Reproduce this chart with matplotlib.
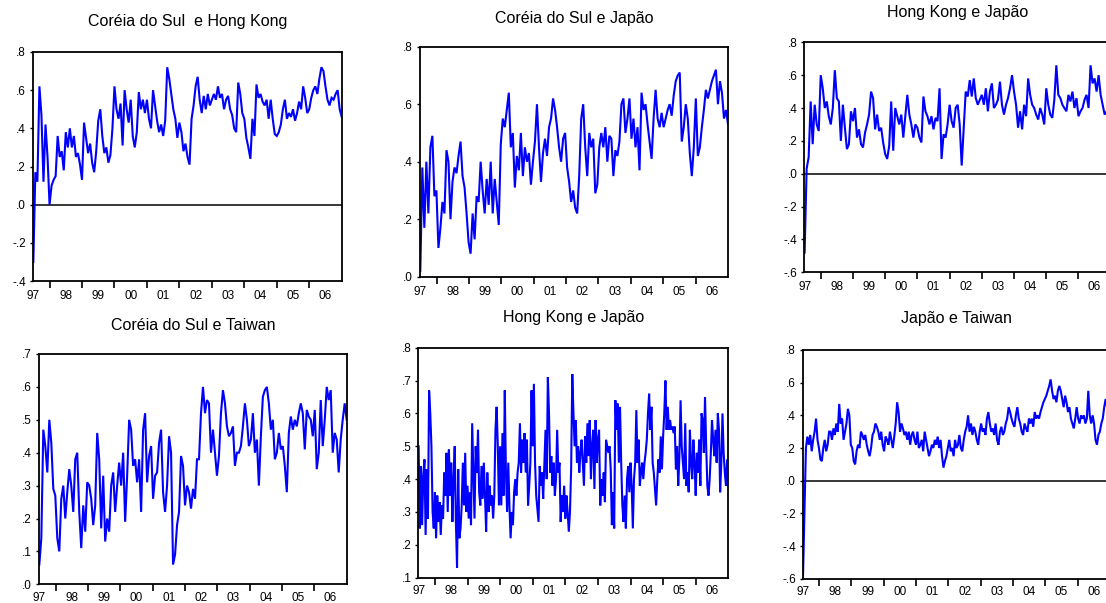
import numpy as np
import matplotlib
matplotlib.use("Agg")
import matplotlib.pyplot as plt
from matplotlib.ticker import FixedLocator, FuncFormatter, NullFormatter

plt.rcParams['font.family'] = ['Liberation Sans', 'DejaVu Sans']

# ---------------- data (weekly-ish conditional correlations) -------------
start_year, end_year = 1997.5, 2007.0
year_ticks = list(range(1998, 2007))
year_labels = ['97', '98', '99', '00', '01', '02', '03', '04', '05', '06']

titles = ['Coréia do Sul  e Hong Kong', 'Coréia do Sul e Japão', 'Hong Kong e Japão',
          'Coréia do Sul e Taiwan', 'Hong Kong e Japão', 'Japão e Taiwan']

kor_hk = [-0.30, 0.17, 0.12, 0.62, 0.47, 0.12, 0.42, 0.25,
          0.00, 0.10, 0.13, 0.15, 0.36, 0.25, 0.28, 0.18, 0.38, 0.30, 0.40, 0.30, 0.36, 0.25, 0.27, 0.21,
          0.13, 0.43, 0.35, 0.27, 0.32, 0.22, 0.17, 0.28, 0.44, 0.50, 0.36, 0.27, 0.30, 0.22, 0.26, 0.40,
          0.62, 0.50, 0.45, 0.53, 0.31, 0.60, 0.50, 0.43, 0.55, 0.36, 0.30, 0.38, 0.59, 0.50, 0.55, 0.48,
          0.55, 0.45, 0.40, 0.60, 0.52, 0.44, 0.38, 0.42, 0.36, 0.44, 0.72, 0.66, 0.58, 0.50, 0.45, 0.35,
          0.43, 0.38, 0.28, 0.32, 0.25, 0.21, 0.45, 0.52, 0.62, 0.67, 0.55, 0.48, 0.57, 0.50, 0.58, 0.52,
          0.55, 0.58, 0.55, 0.62, 0.56, 0.58, 0.50, 0.55, 0.57, 0.50, 0.47, 0.40, 0.38, 0.64, 0.58, 0.48,
          0.45, 0.35, 0.30, 0.24, 0.45, 0.36, 0.63, 0.56, 0.58, 0.54, 0.52, 0.55, 0.45, 0.55, 0.45, 0.37,
          0.36, 0.38, 0.42, 0.50, 0.55, 0.45, 0.48, 0.46, 0.50, 0.44, 0.48, 0.54, 0.50, 0.62, 0.56, 0.48,
          0.50, 0.56, 0.60, 0.62, 0.58, 0.66, 0.72, 0.70, 0.62, 0.55, 0.52, 0.56, 0.55, 0.58, 0.60, 0.50, 0.46]

kor_jap = [0.02, 0.38, 0.17, 0.40, 0.22, 0.45, 0.49, 0.28,
           0.30, 0.10, 0.17, 0.26, 0.22, 0.44, 0.40, 0.20, 0.33, 0.38, 0.36, 0.42, 0.47, 0.35, 0.31, 0.22,
           0.12, 0.08, 0.22, 0.13, 0.28, 0.26, 0.40, 0.30, 0.22, 0.34, 0.25, 0.40, 0.22, 0.34, 0.26, 0.18,
           0.46, 0.55, 0.52, 0.58, 0.64, 0.45, 0.50, 0.31, 0.42, 0.37, 0.50, 0.35, 0.45, 0.40, 0.43, 0.32,
           0.40, 0.47, 0.60, 0.45, 0.33, 0.43, 0.48, 0.42, 0.52, 0.55, 0.62, 0.58, 0.52, 0.45, 0.40, 0.48,
           0.50, 0.38, 0.33, 0.26, 0.30, 0.24, 0.22, 0.35, 0.55, 0.60, 0.45, 0.35, 0.50, 0.45, 0.48, 0.29,
           0.32, 0.45, 0.50, 0.45, 0.52, 0.40, 0.49, 0.48, 0.35, 0.44, 0.42, 0.47, 0.60, 0.62, 0.50, 0.55,
           0.62, 0.48, 0.55, 0.45, 0.52, 0.37, 0.64, 0.58, 0.60, 0.53, 0.47, 0.41, 0.55, 0.65, 0.55, 0.52,
           0.57, 0.52, 0.55, 0.58, 0.60, 0.56, 0.63, 0.68, 0.70, 0.71, 0.47, 0.52, 0.60, 0.55, 0.43, 0.35,
           0.45, 0.62, 0.42, 0.45, 0.52, 0.58, 0.65, 0.62, 0.65, 0.68, 0.70, 0.72, 0.60, 0.68, 0.64, 0.55,
           0.58, 0.53]

hk_jap_a = [-0.48, 0.03, 0.10, 0.44, 0.18, 0.42, 0.30, 0.26,
            0.60, 0.52, 0.40, 0.44, 0.35, 0.30, 0.40, 0.63, 0.46, 0.44, 0.20, 0.42, 0.28, 0.15, 0.18, 0.38,
            0.32, 0.40, 0.22, 0.27, 0.18, 0.16, 0.25, 0.30, 0.36, 0.50, 0.46, 0.27, 0.36, 0.26, 0.28, 0.19,
            0.12, 0.09, 0.17, 0.44, 0.14, 0.40, 0.35, 0.30, 0.36, 0.22, 0.35, 0.48, 0.36, 0.30, 0.22, 0.30,
            0.28, 0.22, 0.19, 0.47, 0.38, 0.35, 0.30, 0.35, 0.27, 0.34, 0.32, 0.52, 0.09, 0.24, 0.22, 0.30,
            0.42, 0.32, 0.28, 0.40, 0.42, 0.30, 0.05, 0.28, 0.50, 0.47, 0.57, 0.47, 0.58, 0.46, 0.42, 0.45,
            0.48, 0.42, 0.52, 0.38, 0.50, 0.55, 0.40, 0.42, 0.45, 0.56, 0.42, 0.36, 0.42, 0.46, 0.52, 0.60,
            0.50, 0.42, 0.28, 0.38, 0.27, 0.42, 0.35, 0.58, 0.48, 0.42, 0.40, 0.36, 0.33, 0.40, 0.36, 0.30,
            0.52, 0.42, 0.36, 0.34, 0.45, 0.66, 0.48, 0.46, 0.42, 0.40, 0.38, 0.48, 0.44, 0.50, 0.40, 0.46,
            0.35, 0.38, 0.40, 0.45, 0.48, 0.40, 0.66, 0.55, 0.58, 0.50, 0.60, 0.48, 0.42, 0.36, 0.38, 0.40,
            0.42]

kor_tw = [0.06, 0.14, 0.47, 0.42, 0.34, 0.50, 0.43, 0.29,
          0.27, 0.14, 0.10, 0.26, 0.30, 0.20, 0.28, 0.35, 0.30, 0.22, 0.38, 0.40, 0.22, 0.11, 0.24, 0.16,
          0.31, 0.30, 0.26, 0.18, 0.24, 0.46, 0.38, 0.17, 0.33, 0.13, 0.20, 0.16, 0.30, 0.34, 0.22, 0.30,
          0.37, 0.30, 0.40, 0.19, 0.33, 0.50, 0.47, 0.36, 0.38, 0.31, 0.38, 0.22, 0.47, 0.52, 0.31, 0.39,
          0.42, 0.26, 0.33, 0.34, 0.43, 0.47, 0.28, 0.22, 0.30, 0.45, 0.40, 0.06, 0.09, 0.18, 0.22, 0.39,
          0.36, 0.24, 0.30, 0.28, 0.23, 0.29, 0.26, 0.38, 0.38, 0.52, 0.60, 0.52, 0.56, 0.55, 0.40, 0.47,
          0.40, 0.33, 0.39, 0.52, 0.59, 0.55, 0.48, 0.45, 0.46, 0.48, 0.36, 0.40, 0.40, 0.42, 0.48, 0.55,
          0.50, 0.42, 0.44, 0.52, 0.40, 0.44, 0.30, 0.45, 0.57, 0.59, 0.60, 0.55, 0.47, 0.50, 0.38, 0.40,
          0.46, 0.41, 0.42, 0.36, 0.28, 0.46, 0.51, 0.47, 0.50, 0.48, 0.52, 0.55, 0.52, 0.41, 0.53, 0.51,
          0.50, 0.45, 0.53, 0.35, 0.40, 0.56, 0.42, 0.50, 0.60, 0.56, 0.59, 0.40, 0.46, 0.44, 0.34, 0.44,
          0.50, 0.55, 0.50]

hk_jap_b = [0.50, 0.25, 0.44, 0.26, 0.41, 0.46, 0.23, 0.43, 0.28, 0.67, 0.60, 0.50, 0.30, 0.25, 0.36,
            0.22, 0.35, 0.27, 0.33, 0.23, 0.32, 0.28, 0.42, 0.35, 0.48, 0.30, 0.49, 0.35, 0.45, 0.27,
            0.40, 0.50, 0.27, 0.13, 0.43, 0.22, 0.25, 0.32, 0.45, 0.32, 0.48, 0.30, 0.38, 0.28, 0.36,
            0.26, 0.57, 0.42, 0.28, 0.50, 0.42, 0.55, 0.36, 0.32, 0.44, 0.34, 0.45, 0.35, 0.24, 0.42,
            0.30, 0.38, 0.32, 0.35, 0.28, 0.35, 0.55, 0.62, 0.50, 0.32, 0.50, 0.32, 0.54, 0.35, 0.67,
            0.42, 0.30, 0.45, 0.32, 0.22, 0.30, 0.26, 0.36, 0.40, 0.35, 0.42, 0.45, 0.57, 0.42, 0.52,
            0.45, 0.54, 0.42, 0.52, 0.32, 0.38, 0.45, 0.67, 0.50, 0.69, 0.45, 0.35, 0.31, 0.27, 0.44,
            0.38, 0.42, 0.34, 0.45, 0.55, 0.40, 0.71, 0.60, 0.42, 0.47, 0.38, 0.45, 0.35, 0.40, 0.55,
            0.42, 0.45, 0.27, 0.35, 0.30, 0.38, 0.28, 0.35, 0.30, 0.24, 0.30, 0.43, 0.72, 0.60, 0.50,
            0.58, 0.45, 0.50, 0.42, 0.48, 0.52, 0.45, 0.38, 0.53, 0.45, 0.57, 0.47, 0.58, 0.40, 0.50,
            0.55, 0.37, 0.58, 0.45, 0.52, 0.55, 0.32, 0.40, 0.35, 0.42, 0.33, 0.52, 0.50, 0.48, 0.50,
            0.43, 0.26, 0.36, 0.25, 0.64, 0.55, 0.63, 0.45, 0.62, 0.45, 0.32, 0.27, 0.35, 0.25, 0.40,
            0.44, 0.36, 0.45, 0.38, 0.25, 0.40, 0.45, 0.61, 0.45, 0.52, 0.38, 0.42, 0.45, 0.40, 0.45,
            0.48, 0.52, 0.60, 0.66, 0.55, 0.62, 0.45, 0.42, 0.37, 0.32, 0.40, 0.46, 0.42, 0.53, 0.43,
            0.53, 0.60, 0.70, 0.55, 0.62, 0.55, 0.58, 0.55, 0.56, 0.54, 0.56, 0.43, 0.50, 0.38, 0.47,
            0.64, 0.50, 0.45, 0.40, 0.57, 0.38, 0.42, 0.36, 0.55, 0.45, 0.40, 0.52, 0.45, 0.35, 0.48,
            0.42, 0.52, 0.38, 0.60, 0.58, 0.48, 0.65, 0.50, 0.38, 0.35, 0.40, 0.48, 0.58, 0.52, 0.47,
            0.55, 0.45, 0.60, 0.55, 0.36, 0.45, 0.60, 0.48, 0.42, 0.38, 0.46, 0.38]

jap_tw = [-0.58, -0.20, 0.20, 0.27, 0.22, 0.28, 0.18, 0.25, 0.30, 0.38, 0.25, 0.20, 0.13, 0.12, 0.20,
          0.25, 0.18, 0.22, 0.30, 0.30, 0.25, 0.32, 0.28, 0.35, 0.30, 0.47, 0.35, 0.38, 0.25, 0.30,
          0.35, 0.44, 0.40, 0.22, 0.20, 0.12, 0.10, 0.18, 0.22, 0.20, 0.30, 0.28, 0.25, 0.28, 0.22,
          0.18, 0.15, 0.20, 0.28, 0.30, 0.35, 0.33, 0.30, 0.25, 0.30, 0.22, 0.18, 0.27, 0.25, 0.22,
          0.30, 0.25, 0.20, 0.27, 0.35, 0.48, 0.42, 0.30, 0.35, 0.32, 0.28, 0.30, 0.25, 0.30, 0.22,
          0.28, 0.30, 0.25, 0.22, 0.30, 0.20, 0.22, 0.25, 0.18, 0.30, 0.25, 0.20, 0.15, 0.18, 0.22,
          0.20, 0.25, 0.22, 0.27, 0.20, 0.25, 0.15, 0.08, 0.12, 0.15, 0.20, 0.25, 0.18, 0.20, 0.15,
          0.25, 0.20, 0.22, 0.28, 0.20, 0.18, 0.25, 0.30, 0.33, 0.40, 0.30, 0.35, 0.28, 0.33, 0.30,
          0.25, 0.22, 0.30, 0.35, 0.30, 0.32, 0.28, 0.38, 0.42, 0.35, 0.30, 0.32, 0.28, 0.35, 0.25,
          0.22, 0.30, 0.33, 0.28, 0.30, 0.35, 0.38, 0.45, 0.42, 0.38, 0.35, 0.33, 0.40, 0.45, 0.38,
          0.35, 0.30, 0.28, 0.35, 0.32, 0.30, 0.38, 0.35, 0.38, 0.33, 0.42, 0.38, 0.40, 0.38, 0.42,
          0.45, 0.48, 0.50, 0.52, 0.55, 0.58, 0.62, 0.55, 0.50, 0.52, 0.48, 0.55, 0.58, 0.55, 0.50,
          0.45, 0.52, 0.48, 0.42, 0.45, 0.38, 0.35, 0.32, 0.38, 0.45, 0.38, 0.35, 0.40, 0.38, 0.40,
          0.35, 0.38, 0.55, 0.40, 0.35, 0.40, 0.35, 0.25, 0.22, 0.28, 0.30, 0.35, 0.38, 0.45, 0.50,
          0.45, 0.48, 0.50]

series = [kor_hk, kor_jap, hk_jap_a, kor_tw, hk_jap_b, jap_tw]
ylims = [(-0.4, 0.8), (0.0, 0.8), (-0.6, 0.8), (0.0, 0.7), (0.1, 0.8), (-0.6, 0.8)]
yticks = [[-0.4, -0.2, 0.0, 0.2, 0.4, 0.6, 0.8],
          [0.0, 0.2, 0.4, 0.6, 0.8],
          [-0.6, -0.4, -0.2, 0.0, 0.2, 0.4, 0.6, 0.8],
          [0.0, 0.1, 0.2, 0.3, 0.4, 0.5, 0.6, 0.7],
          [0.1, 0.2, 0.3, 0.4, 0.5, 0.6, 0.7, 0.8],
          [-0.6, -0.4, -0.2, 0.0, 0.2, 0.4, 0.6, 0.8]]
zero_line = [True, False, True, False, False, True]

# ---------------- layout (pixels) ----------------
W, H = 1106, 603
boxes = [(33, 341.7, 52, 281), (420, 728, 46.7, 276.7), (804.3, 1110.7, 42.3, 272.3),
         (39, 346.7, 354, 584.3), (418.3, 728.3, 347.7, 577.7), (802.7, 1110, 350, 578.7)]
title_y = [21.7, 18.3, 12.7, 325, 317, 318]
xpad = [6.5, 6.5, 6.5, 5.5, 5.5, 5.5]

fig = plt.figure(figsize=(W / 100, H / 100), dpi=100)


def fmt(v, pos):
    s = f"{v:.1f}"
    if s.startswith("-0"):
        s = "-" + s[2:]
    elif s.startswith("0"):
        s = s[1:]
    return s


def year_fmt(v, pos):
    return year_labels[int(round(v - 1997.5))]


for i in range(6):
    l, r, t, b = boxes[i]
    ax = fig.add_axes([l / W, 1 - b / H, (r - l) / W, (b - t) / H])
    y = np.array(series[i])
    x = np.linspace(start_year, end_year, len(y))
    if zero_line[i]:
        ax.axhline(0, color='black', lw=1.1, zorder=1)
    ax.plot(x, y, color='#0000FF', lw=1.5, zorder=2, solid_joinstyle='miter')
    ax.set_xlim(start_year - 0.01, end_year)
    ax.set_ylim(*ylims[i])
    ax.yaxis.set_major_locator(FixedLocator(yticks[i]))
    ax.yaxis.set_major_formatter(FuncFormatter(fmt))
    ax.xaxis.set_major_locator(FixedLocator(year_ticks))
    ax.xaxis.set_major_formatter(NullFormatter())
    ax.xaxis.set_minor_locator(FixedLocator([1997.5 + k for k in range(10)]))
    ax.xaxis.set_minor_formatter(FuncFormatter(year_fmt))
    ax.tick_params(axis='x', which='major', direction='out', length=5, width=1.2, bottom=True, top=False)
    ax.tick_params(axis='x', which='minor', length=0, labelsize=8.5, pad=xpad[i])
    ax.tick_params(axis='y', which='major', direction='out', length=2.5, width=1.0, labelsize=8.5,
                   pad=2.5, left=True, right=False)
    for sp in ax.spines.values():
        sp.set_linewidth(1.3)
        sp.set_color('black')
    fig.text((l + r) / 2 / W, 1 - title_y[i] / H, titles[i], ha='center', va='center', fontsize=11.5)

fig.savefig('out.png', dpi=100)
